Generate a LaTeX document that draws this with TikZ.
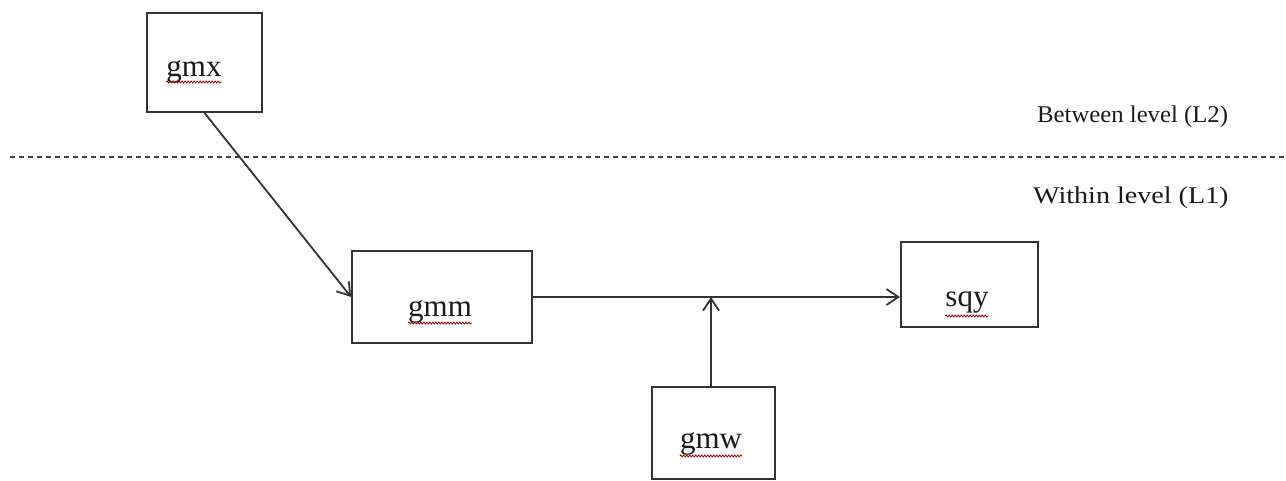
\documentclass[tikz,border=0pt]{standalone}
\usepackage{fontspec}
\setmainfont{Liberation Serif}
\usetikzlibrary{arrows.meta,decorations.pathmorphing}
\begin{document}
\begin{tikzpicture}[x=1pt,y=-1pt,
  box/.style={draw=black!80,line width=1.8pt,rectangle,inner sep=0pt},
  lbl/.style={anchor=base,inner sep=0pt,font=\fontsize{31}{31}\selectfont,text=black!90},
  side/.style={anchor=base west,inner sep=0pt,font=\fontsize{24}{24}\selectfont,text=black!90},
  conn/.style={draw=black!80,line width=1.8pt,-{Straight Barb[length=12pt,width=16pt,line width=1.8pt]}},
  squig/.style={draw=red!60!black,line width=0.8pt,decorate,decoration={snake,amplitude=1pt,segment length=3pt}}]
\useasboundingbox[fill=white] (0,0) rectangle (1286,480);
% boxes
\node[box,minimum width=115pt,minimum height=99pt] (gmx) at (204.5,62.5) {};
\node[box,minimum width=180pt,minimum height=92pt] (gmm) at (442,297) {};
\node[box,minimum width=137pt,minimum height=85pt] (sqy) at (969.5,284.5) {};
\node[box,minimum width=123pt,minimum height=92pt] (gmw) at (713.5,433) {};
% labels
\node[lbl] (tgmx) at (194,76) {gmx};
\node[lbl] (tgmm) at (440,316) {gmm};
\node[lbl] (tsqy) at (967,306) {sqy};
\node[lbl] (tgmw) at (711,448) {gmw};
\node[side] (between) at (1037,122) {\scalebox{1.03}[1]{Between level (L2)}};
\node[side] (within) at (1033,203) {\scalebox{1.17}[1]{Within level (L1)}};
% dashed separator
\coordinate (dl) at (10,156.5);
\coordinate (dr) at (1286,156.5);
\draw[black!75,line width=2pt,dash pattern=on 5pt off 4pt] (dl) -- (dr);
% squiggles
\draw[squig] ([yshift=-6pt]tgmx.base west) -- ([yshift=-6pt]tgmx.base east);
\draw[squig] ([yshift=-7pt]tgmm.base west) -- ([yshift=-7pt]tgmm.base east);
\draw[squig] ([yshift=-8pt]tgmw.base west) -- ([yshift=-8pt]tgmw.base east);
\draw[squig] ([yshift=-10pt]tsqy.base west) -- ([yshift=-10pt]tsqy.base east);
% connectors
\draw[conn] (gmx.south) -- (gmm.west);
\draw[conn] (gmm.east) -- (gmm.east -| sqy.west);
\coordinate (join) at ([xshift=-2.5pt]gmw.north |- gmm.east);
\draw[conn] ([xshift=-2.5pt]gmw.north) -- (join);
\end{tikzpicture}
\end{document}
